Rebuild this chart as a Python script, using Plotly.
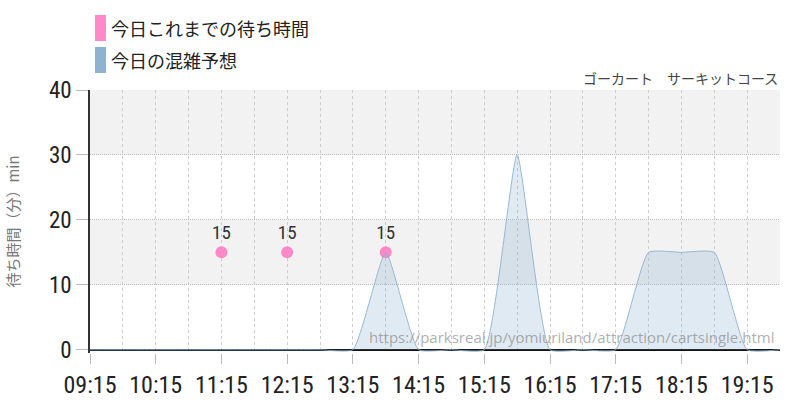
import plotly.graph_objects as go

# 今日の混雑予想 (30分ごと)
yosou_jikan = ["09:15", "09:45", "10:15", "10:45", "11:15", "11:45", "12:15", "12:45",
               "13:15", "13:45", "14:15", "14:45", "15:15", "15:45", "16:15", "16:45",
               "17:15", "17:45", "18:15", "18:45", "19:15", "19:45"]
yosou_fun = [0, 0, 0, 0, 0, 0, 0, 0,
             0, 15, 0, 0, 0, 30, 0, 0,
             0, 15, 15, 15, 0, 0]

# 今日これまでの待ち時間
jisseki_jikan = ["11:15", "12:15", "13:45"]
jisseki_fun = [15, 15, 15]

hi = "2024-05-01 "
pink = "#ff88c8"
blue = "#8fb2d0"
fnt = "Liberation Sans Narrow, Roboto Condensed, DejaVu Sans Condensed, sans-serif"
jp = "Noto Sans CJK JP"
x_range = [hi + "09:15", hi + "19:45"]

fig = go.Figure()

fig.add_trace(go.Scatter(
    x=[hi + t for t in yosou_jikan],
    y=yosou_fun,
    xaxis="x2",
    mode="lines",
    line=dict(color="rgba(143,178,208,0.9)", width=1, shape="spline", smoothing=0.45),
    fill="tozeroy",
    fillcolor="rgba(143,178,208,0.28)",
    name="今日の混雑予想",
    showlegend=False,
))

fig.add_trace(go.Scatter(
    x=[hi + t for t in jisseki_jikan],
    y=jisseki_fun,
    mode="markers+text",
    marker=dict(color=pink, size=12),
    text=[str(v) for v in jisseki_fun],
    textposition="top center",
    textfont=dict(family=fnt, size=19, color="#333"),
    name="今日これまでの待ち時間",
    showlegend=False,
))

# 背景の帯
for y0, y1 in [(10, 20), (30, 40)]:
    fig.add_shape(type="rect", xref="paper", yref="y", x0=0, x1=1, y0=y0, y1=y1,
                  fillcolor="#f2f2f2", line_width=0, layer="below")

# 凡例 (手描き)
for i, (lbl, col) in enumerate([("今日これまでの待ち時間", pink), ("今日の混雑予想", blue)]):
    yc = 28 + 32 * i
    fig.add_shape(type="rect", xref="paper", yref="paper",
                  x0=(95 - 90) / 690, x1=(106 - 90) / 690,
                  y0=(353 - yc - 13) / 263, y1=(353 - yc + 13) / 263,
                  fillcolor=col, line_width=0)
    fig.add_annotation(text=lbl, xref="paper", yref="paper",
                       x=(109 - 90) / 690, y=(353 - yc) / 263,
                       xanchor="left", yanchor="middle", showarrow=False,
                       font=dict(family=jp, size=18, color="#222"))

fig.add_annotation(text="ゴーカート　サーキットコース", xref="paper", yref="paper",
                   x=1, y=(353 - 78) / 263, xanchor="right", yanchor="middle",
                   showarrow=False, font=dict(family=jp, size=14, color="#444"))

fig.add_annotation(text="https://parksreal.jp/yomiuriland/attraction/cartsingle.html",
                   xref="paper", yref="paper", x=(776 - 90) / 690, y=(353 - 337) / 263,
                   xanchor="right", yanchor="middle", showarrow=False,
                   font=dict(family="Open Sans, sans-serif", size=15, color="rgba(120,120,120,0.6)"))

fig.update_layout(
    width=800, height=400,
    margin=dict(l=90, r=20, t=90, b=47),
    paper_bgcolor="white",
    plot_bgcolor="white",
    showlegend=False,
    xaxis=dict(
        type="date",
        automargin=False,
        range=x_range,
        tick0=hi + "09:15",
        dtick=3600000,
        tickformat="%H:%M",
        ticks="outside", ticklen=10, tickcolor="#bbb",
        tickfont=dict(family=fnt, size=24, color="#222"),
        showgrid=False,
        showline=False, zeroline=False,
    ),
    # 30分ごとの縦グリッド
    xaxis2=dict(
        type="date",
        automargin=False,
        overlaying="x",
        range=x_range,
        tick0=hi + "09:15",
        dtick=1800000,
        showticklabels=False,
        ticks="",
        showgrid=True, gridcolor="#ccc", griddash="3px,3px", gridwidth=1,
        showline=False, zeroline=False,
    ),
    yaxis=dict(
        automargin=False,
        range=[-0.5, 40],
        tickvals=[0, 10, 20, 30, 40],
        ticks="outside", ticklen=12, tickcolor="#bbb",
        tickfont=dict(family=fnt, size=23, color="#222"),
        showgrid=True, gridcolor="#bbb", griddash="1px,1px", gridwidth=1,
        zeroline=True, zerolinecolor="#111", zerolinewidth=1.5,
        showline=True, linecolor="#333", linewidth=1.5,
        title=dict(text="待ち時間（分）min", font=dict(family=jp, size=15, color="#777"), standoff=26),
    ),
)

fig.write_html("out.html", config={"displayModeBar": False},
               post_script="document.body.style.margin='0';")
